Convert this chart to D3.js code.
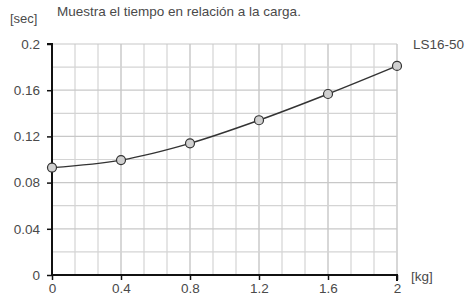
<!DOCTYPE html>
<html>
<head>
<meta charset="utf-8">
<script src="https://cdn.jsdelivr.net/npm/d3@7"></script>
<style>
  body { margin: 0; background: #fff; }
  text { font-family: "Liberation Sans", Arial, sans-serif; fill: #4a4a4a; }
</style>
</head>
<body>
<svg id="chart" width="466" height="295"></svg>
<script>
// data
const loads = [0, 0.4, 0.8, 1.2, 1.6, 2.0];
const times = [0.093, 0.0995, 0.114, 0.134, 0.1567, 0.181];
const xTickValues = [0, 0.4, 0.8, 1.2, 1.6, 2];
const yTickValues = [0, 0.04, 0.08, 0.12, 0.16, 0.2];
const seriesName = "LS16-50";
const title = "Muestra el tiempo en relación a la carga.";

const margin = {left: 52, right: 69, top: 44, bottom: 20};
const width = 466, height = 295;

const svg = d3.select("#chart");

const x = d3.scaleLinear().domain([0, 2]).range([margin.left, width - margin.right]);
const y = d3.scaleLinear().domain([0, 0.2]).range([height - margin.bottom, margin.top]);

// grid: 15 columns, 10 rows
const xGrid = d3.range(0, 16).map(i => i * 2 / 15);
const yGrid = d3.range(0, 11).map(i => i * 0.02);

const grid = svg.append("g");
grid.selectAll(".vg").data(xGrid.slice(1)).join("line")
    .attr("x1", d => x(d)).attr("x2", d => x(d))
    .attr("y1", y(0)).attr("y2", y(0.2))
    .attr("stroke", (d, i) => (i + 1) % 3 === 0 ? "#bdbdbd" : "#d4d4d4")
    .attr("stroke-width", 1.2);
grid.selectAll(".hg").data(yGrid.slice(1)).join("line")
    .attr("x1", x(0)).attr("x2", x(2))
    .attr("y1", d => y(d)).attr("y2", d => y(d))
    .attr("stroke", (d, i) => (i + 1) % 2 === 0 ? "#c8c8c8" : "#d4d4d4")
    .attr("stroke-width", 1.2);

// axes
const xAxis = svg.append("g")
    .attr("transform", "translate(0," + y(0) + ")")
    .call(d3.axisBottom(x).tickValues(xTickValues).tickSize(5).tickPadding(3)
        .tickFormat(d3.format("~g")));
const yAxis = svg.append("g")
    .attr("transform", "translate(" + x(0) + ",0)")
    .call(d3.axisLeft(y).tickValues(yTickValues).tickSize(5).tickPadding(7)
        .tickFormat(d3.format("~g")));

[xAxis, yAxis].forEach(a => {
  a.select(".domain").attr("stroke", "#111").attr("stroke-width", 2);
  a.selectAll(".tick line").attr("stroke", "#111").attr("stroke-width", 1.5);
  a.selectAll(".tick text").attr("font-size", 13.5).attr("fill", "#4a4a4a")
      .attr("font-family", "Liberation Sans, Arial, sans-serif");
});
xAxis.select(".domain").attr("d", "M" + x(0) + ",0H" + x(2) + "V6");
yAxis.select(".domain").attr("d", "M-5," + y(0.2) + "H0V" + y(0));

// curve
const pts = loads.map((d, i) => [d, times[i]]);
const line = d3.line().x(d => x(d[0])).y(d => y(d[1])).curve(d3.curveMonotoneX);
svg.append("path").datum(pts).attr("d", line)
    .attr("fill", "none").attr("stroke", "#333").attr("stroke-width", 1.4);

svg.selectAll(".pt").data(pts).join("circle")
    .attr("cx", d => x(d[0])).attr("cy", d => y(d[1])).attr("r", 4.5)
    .attr("fill", "#d0d0d0").attr("stroke", "#333").attr("stroke-width", 1.2);

// labels
svg.append("text").attr("x", 10).attr("y", 23).attr("font-size", 13).text("[sec]");
svg.append("text").attr("x", 57).attr("y", 16).attr("font-size", 13.5).text(title);
svg.append("text").attr("x", 413).attr("y", 49).attr("font-size", 13.5).text(seriesName);
svg.append("text").attr("x", 411).attr("y", 281).attr("font-size", 13.5).text("[kg]");
</script>
</body>
</html>
